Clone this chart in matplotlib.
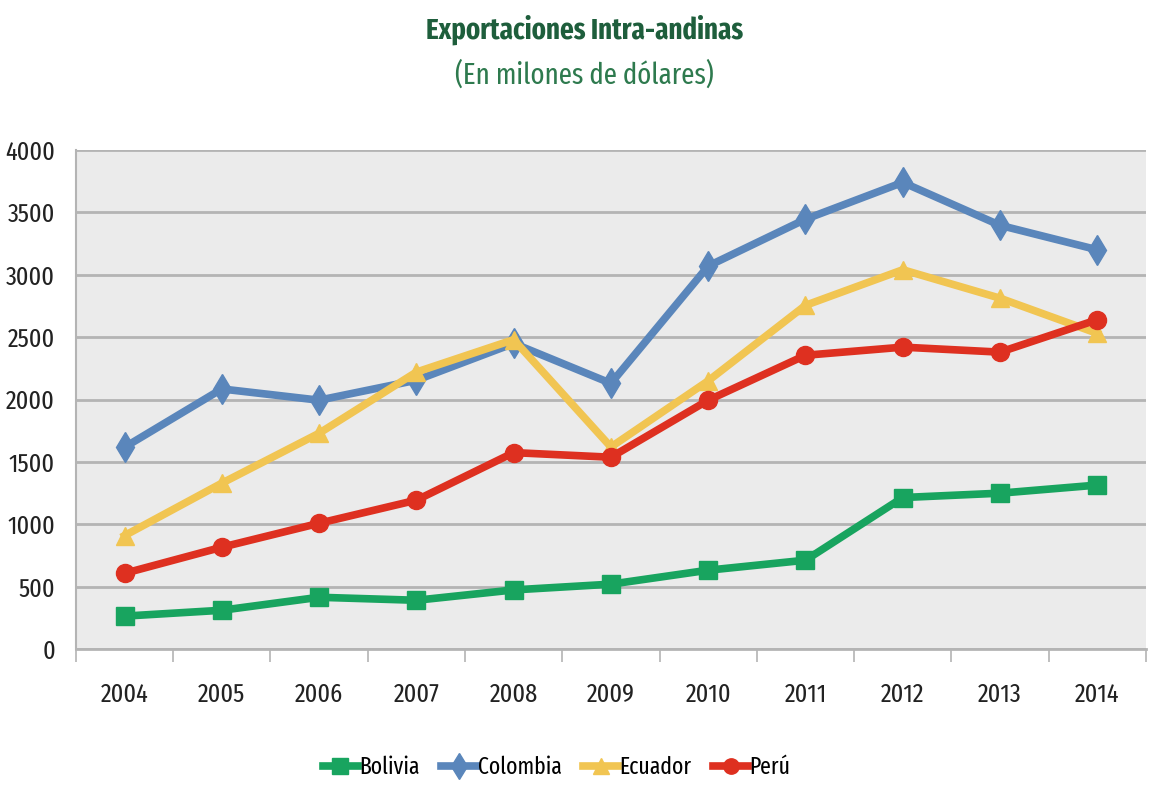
import matplotlib
matplotlib.use("Agg")
import matplotlib.pyplot as plt
import numpy as np

years = ["2004", "2005", "2006", "2007", "2008", "2009", "2010", "2011", "2012", "2013", "2014"]
bolivia = [265, 312, 416, 392, 475, 521, 633, 713, 1215, 1250, 1315]
colombia = [1618, 2085, 1995, 2155, 2450, 2130, 3070, 3445, 3740, 3396, 3200]
ecuador = [910, 1330, 1730, 2220, 2480, 1620, 2150, 2755, 3040, 2812, 2530]
peru = [608, 817, 1009, 1194, 1575, 1538, 1995, 2355, 2420, 2380, 2640]

plt.rcParams['font.family'] = ['Fira Sans Extra Condensed', 'DejaVu Sans']

fig = plt.figure(figsize=(11.5, 7.85), dpi=100)
ax = fig.add_axes([0.066, 0.173, 0.9305, 0.636])
ax.set_facecolor("#ebebeb")

x = np.arange(len(years))
series = [
    ("Bolivia", bolivia, "#18a45f", "s", 13),
    ("Colombia", colombia, "#5a86bb", "d", 15),
    ("Ecuador", ecuador, "#f1c552", "^", 13),
    ("Perú", peru, "#de3020", "o", 13),
]
for name, vals, col, mk, ms in series:
    ax.plot(x, vals, color=col, lw=5.5, marker=mk, markersize=ms,
            markeredgecolor=col, label=name, solid_joinstyle="round")

ax.set_xlim(-0.5, len(years) - 0.5)
ax.set_ylim(0, 4000)
ax.set_yticks(range(0, 4001, 500))
ax.yaxis.grid(True, color="#b4b4b4", lw=2)
ax.set_axisbelow(True)

ax.set_xticks(x)
ax.set_xticklabels(years, fontsize=19, color="#222222")
ax.set_xticks(np.arange(-0.5, len(years), 1), minor=True)
ax.tick_params(axis="x", which="major", length=0, pad=24)
ax.tick_params(axis="x", which="minor", length=9, color="#b4b4b4", width=1.2)
ax.tick_params(axis="y", length=0, labelsize=19, labelcolor="#222222", pad=15)

for s in ["top", "right"]:
    ax.spines[s].set_visible(False)
ax.spines["left"].set_color("#b4b4b4")
ax.spines["left"].set_linewidth(1.5)
ax.spines["bottom"].set_color("#b4b4b4")
ax.spines["bottom"].set_linewidth(2)

fig.text(0.508, 0.962, "Exportaciones Intra-andinas", ha="center", va="center",
         fontsize=21, fontweight="bold", color="#1e5e3c")
fig.text(0.508, 0.904, "(En milones de dólares)", ha="center", va="center",
         fontsize=21, color="#2e7a4e")

fig.legend(loc="center", bbox_to_anchor=(0.484, 0.022), ncol=4, frameon=False,
           fontsize=17, handlelength=1.5, handletextpad=0.05, columnspacing=0.9,
           markerscale=0.85)

fig.savefig("out.png", dpi=100, facecolor="white")
